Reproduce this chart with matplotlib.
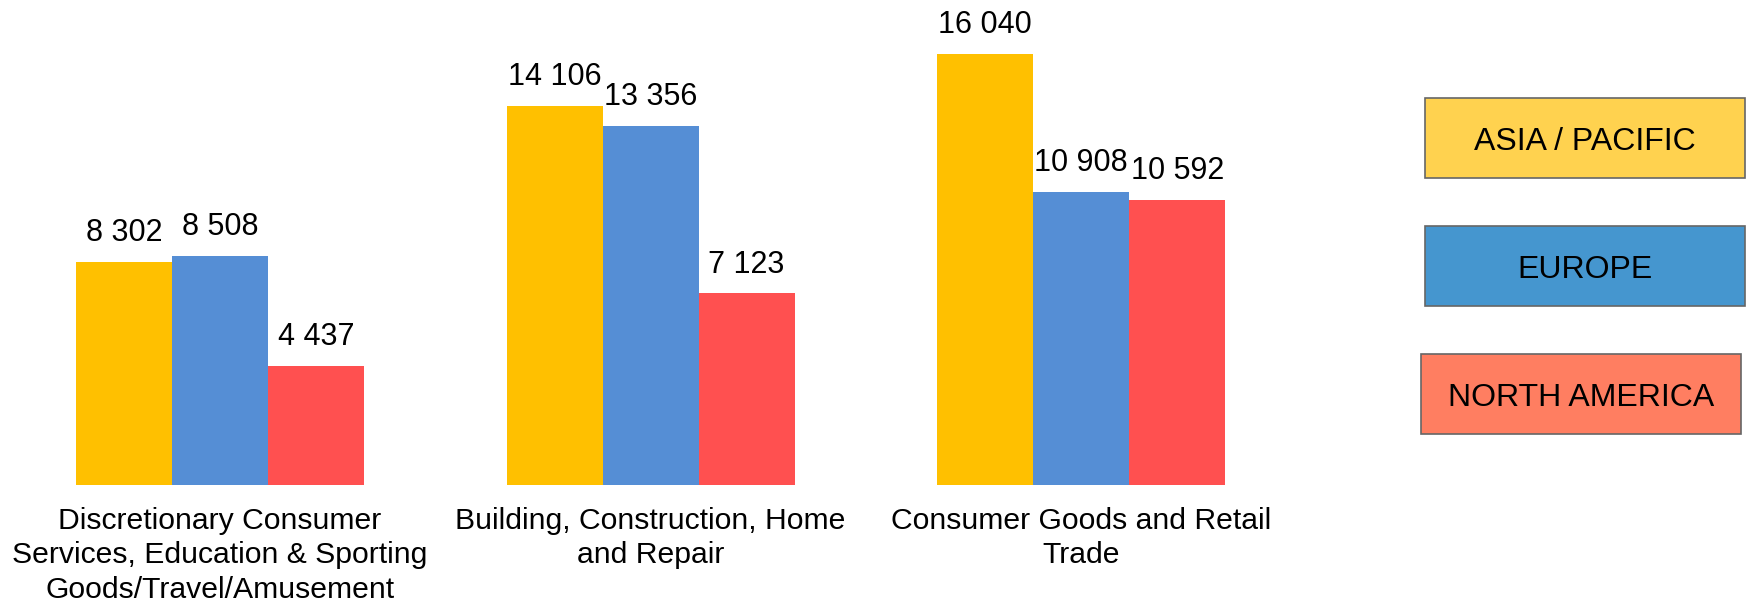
import matplotlib
matplotlib.use("Agg")
import matplotlib.pyplot as plt
from matplotlib.patches import Rectangle
import numpy as np

plt.rcParams['font.family'] = ['Liberation Sans', 'DejaVu Sans']

categories = [
    "Discretionary Consumer\nServices, Education & Sporting\nGoods/Travel/Amusement",
    "Building, Construction, Home\nand Repair",
    "Consumer Goods and Retail\nTrade",
]
series_names = ["ASIA / PACIFIC", "EUROPE", "NORTH AMERICA"]
asia_pacific = [8302, 14106, 16040]
europe = [8508, 13356, 10908]
north_america = [4437, 7123, 10592]

bar_colors = ["#FFC000", "#558ED5", "#FF5050"]
legend_colors = ["#FFD24F", "#4596CF", "#FF7E61"]

W, H = 1746, 605
fig = plt.figure(figsize=(W / 100, H / 100), dpi=100)

# main bar area, baseline at 485 px from the top
base_px = 485
ax = fig.add_axes([0, (H - base_px) / H, 1250 / W, base_px / H])
x = np.arange(len(categories))
width = 0.223
for i, (vals, col) in enumerate(zip([asia_pacific, europe, north_america], bar_colors)):
    pos = x + (i - 1) * width
    bars = ax.bar(pos, vals, width=width, color=col, linewidth=0)
    for b, v in zip(bars, vals):
        ax.annotate(f"{v:,}".replace(",", " "),
                    (b.get_x() + b.get_width() / 2, b.get_height()),
                    xytext=(0, 15), textcoords="offset points",
                    ha="center", va="baseline", fontsize=22)

ax.set_xlim(-0.511, 2.392)
ax.set_ylim(0, base_px / 0.0269)
ax.set_xticks(x)
ax.set_xticklabels(categories, fontsize=21.7, linespacing=1.3)
ax.tick_params(axis="x", length=0, pad=15.5)
ax.set_yticks([])
for s in ax.spines.values():
    s.set_visible(False)

# legend boxes on the right
lax = fig.add_axes([0, 0, 1, 1])
lax.set_xlim(0, W)
lax.set_ylim(H, 0)
lax.axis("off")
boxes = [(1425, 98), (1425, 226), (1421, 354)]
for (bx, by), name, col in zip(boxes, series_names, legend_colors):
    lax.add_patch(Rectangle((bx, by), 320, 80, facecolor=col,
                            edgecolor="#666666", linewidth=1.2))
    lax.text(bx + 160, by + 40, name, ha="center", va="center_baseline",
             fontsize=23)

fig.savefig("out.png", dpi=100)
